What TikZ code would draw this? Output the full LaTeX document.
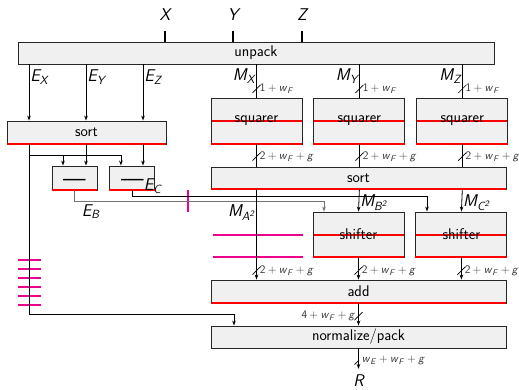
\documentclass[tikz,border=0pt]{standalone}
\usepackage{fontspec}
\usetikzlibrary{positioning, arrows.meta}
\newcommand{\vsub}[2]{\textit{#1}\textsubscript{\textit{#2}}}
\newcommand{\pl}{\hspace{.2em}+\hspace{.2em}}
\newcommand{\minussign}{{\fontsize{24}{24}\selectfont\raisebox{-9pt}[0pt][0pt]{—}}}
\tikzset{
    >={Stealth[length=5pt, width=3.6pt]},
    unit/.style={rectangle, draw=black!85, fill=black!6, line width=0.9pt, inner sep=0pt,
        font=\fontsize{15.5}{18}\selectfont\sffamily},
    midline/.style={path picture={\draw[red, line width=2pt] (path picture bounding box.west) -- (path picture bounding box.east);}},
    redline/.style={red, line width=2pt},
    marker/.style={magenta, line width=1.8pt},
    wire/.style={black, line width=0.8pt},
    stub/.style={black, line width=1.8pt},
    sig/.style={font=\fontsize{17}{19}\selectfont\sffamily\itshape, inner sep=1pt},
    bw/.style={font=\fontsize{11.5}{13}\selectfont\sffamily, text=black!80, inner sep=0pt},
    slash/.pic={\draw[-, black, line width=0.7pt] (-4,4) -- (4,-4);},
}

\begin{document}
\begin{tikzpicture}[x=1pt, y=-1pt]
    \useasboundingbox (0,0) rectangle (519,390);

    % Nodes
    \node[unit, minimum width=476, minimum height=22] (unpack) at (256,53) {unpack};
    \node[unit, minimum width=159, minimum height=23] (sortE) at (86.5,132.5) {sort};
    \node[unit, minimum width=45, minimum height=24] (subB) at (74.5,178) {\minussign};
    \node[unit, minimum width=45, minimum height=24, right=12pt of subB] (subC) {\minussign};
    \node[unit, midline, minimum width=91, minimum height=46] (sqX) at (256.5,121) {squarer};
    \node[unit, midline, minimum width=91, minimum height=46, right=11pt of sqX] (sqY) {squarer};
    \node[unit, midline, minimum width=91, minimum height=46, right=11pt of sqY] (sqZ) {squarer};
    \node[unit, minimum width=295, minimum height=22] (sortM) at (358.5,178) {sort};
    \node[unit, midline, minimum width=91, minimum height=45] (shB) at (358.5,234.5) {shifter};
    \node[unit, midline, minimum width=91, minimum height=45, right=11pt of shB] (shC) {shifter};
    \node[unit, minimum width=295, minimum height=23] (add) at (358.5,291.5) {add};
    \node[unit, minimum width=295, minimum height=22] (norm) at (358.5,337) {normalize/pack};
    \node[sig] (X) at (165,15) {X};
    \node[sig] (Y) at (233,15) {Y};
    \node[sig] (Z) at (302,15) {Z};
    \node[sig] (R) at (358.5,381) {R};
    \foreach \n in {sortE, subB, subC, sqX, sqY, sqZ, sortM, shB, shC, add}
        \draw[redline] (\n.south west) -- (\n.south east);

    \coordinate (ex) at (29,64);
    \coordinate (ey) at (86,64);
    \coordinate (ez) at (143,64);
    \coordinate (fork) at (29,155);
    \coordinate (eb) at (324,201);
    \coordinate (ec) at (427,196);
    \coordinate (bus) at (234,314);

    % Markers
    \draw[marker] (188,190) -- (188,212);
    \draw[marker] (213,235) -- (303,235) (213,257) -- (303,257);
    \draw[marker] (18,260) -- (41,260) (18,269) -- (41,269) (18,278) -- (41,278)
        (18,287) -- (41,287) (18,296) -- (41,296) (18,305) -- (41,305);

    % Draw lines
    \draw[stub] (X |- 0,31) -- (X |- unpack.north);
    \draw[stub] (Y |- 0,31) -- (Y |- unpack.north);
    \draw[stub] (Z |- 0,31) -- (Z |- unpack.north);

    % exponents
    \draw[wire,->] (ex) -- node[sig, right, pos=.23] {\vsub{E}{X}} (ex |- sortE.north);
    \draw[wire,->] (ey) -- node[sig, right, pos=.23] {\vsub{E}{Y}} (ey |- sortE.north);
    \draw[wire,->] (ez) -- node[sig, right, pos=.23] {\vsub{E}{Z}} (ez |- sortE.north);
    \draw[wire,->] (ey |- sortE.south) -- (ey |- subB.north);
    \draw[wire,->] (ez |- sortE.south) -- (ez |- subC.north);
    \draw[wire,->] (fork) -| ([xshift=-11.5pt]subB.north);
    \draw[wire,->] (fork) -| ([xshift=-11.5pt]subC.north);
    \draw[wire,->] (ex |- sortE.south) |- (bus) -- (bus |- norm.north);
    \draw[wire, black!55, ->] (subB.south) |- node[sig, pos=.5, anchor=north west, xshift=6pt, yshift=-2pt, text=black] {\vsub{E}{B}} (eb) -- (eb |- shB.north);
    \draw[wire,->] (subC.south) |- node[sig, pos=.5, anchor=south west, xshift=10pt, yshift=1pt] {\vsub{E}{C}} (ec) -- (ec |- shC.north);

    % mantissas
    \draw[wire] (sqX |- unpack.south) -- node[sig, left, pos=.35] {\vsub{M}{X}} pic[pos=.74] {slash} node[bw, right=3pt, pos=.74] {1\pl\vsub{w}{F}} (sqX.north);
    \draw[wire] (sqY |- unpack.south) -- node[sig, left, pos=.35] {\vsub{M}{Y}} pic[pos=.74] {slash} node[bw, right=3pt, pos=.74] {1\pl\vsub{w}{F}} (sqY.north);
    \draw[wire] (sqZ |- unpack.south) -- node[sig, left, pos=.35] {\vsub{M}{Z}} pic[pos=.74] {slash} node[bw, right=3pt, pos=.74] {1\pl\vsub{w}{F}} (sqZ.north);
    \draw[wire] (sqX.south) -- pic[pos=.55] {slash} node[bw, right=3pt, pos=.55] {2\pl\vsub{w}{F}\pl\textit{g}} (sqX.south |- sortM.north);
    \draw[wire] (sqY.south) -- pic[pos=.55] {slash} node[bw, right=3pt, pos=.55] {2\pl\vsub{w}{F}\pl\textit{g}} (sqY.south |- sortM.north);
    \draw[wire] (sqZ.south) -- pic[pos=.55] {slash} node[bw, right=3pt, pos=.55] {2\pl\vsub{w}{F}\pl\textit{g}} (sqZ.south |- sortM.north);
    \draw[wire,->] (sqX.south |- sortM.south) -- node[sig, left, pos=.26] {\vsub{M}{A\textsuperscript{2}}} pic[pos=.9] {slash} node[bw, right=3pt, pos=.9] {2\pl\vsub{w}{F}\pl\textit{g}} (sqX.south |- add.north);
    \draw[wire,->] (sqY.south |- sortM.south) -- node[sig, right, pos=.6] {\vsub{M}{B\textsuperscript{2}}} (shB.north);
    \draw[wire,->] (sqZ.south |- sortM.south) -- node[sig, right, pos=.6] {\vsub{M}{C\textsuperscript{2}}} (shC.north);
    \draw[wire,->] (shB.south) -- pic[pos=.6] {slash} node[bw, right=3pt, pos=.6] {2\pl\vsub{w}{F}\pl\textit{g}} (shB.south |- add.north);
    \draw[wire,->] (shC.south) -- pic[pos=.6] {slash} node[bw, right=3pt, pos=.6] {2\pl\vsub{w}{F}\pl\textit{g}} (shC.south |- add.north);
    \draw[wire,->] (add.south) -- pic[pos=.57] {slash} node[bw, left=3pt, pos=.57] {4\pl\vsub{w}{F}\pl\textit{g}} (norm.north);
    \draw[wire,->, shorten >=5pt] (norm.south) -- pic[pos=.48] {slash} node[bw, right=3pt, pos=.48] {\vsub{w}{E}\pl\vsub{w}{F}\pl\textit{g}} (R);
\end{tikzpicture}
\end{document}
